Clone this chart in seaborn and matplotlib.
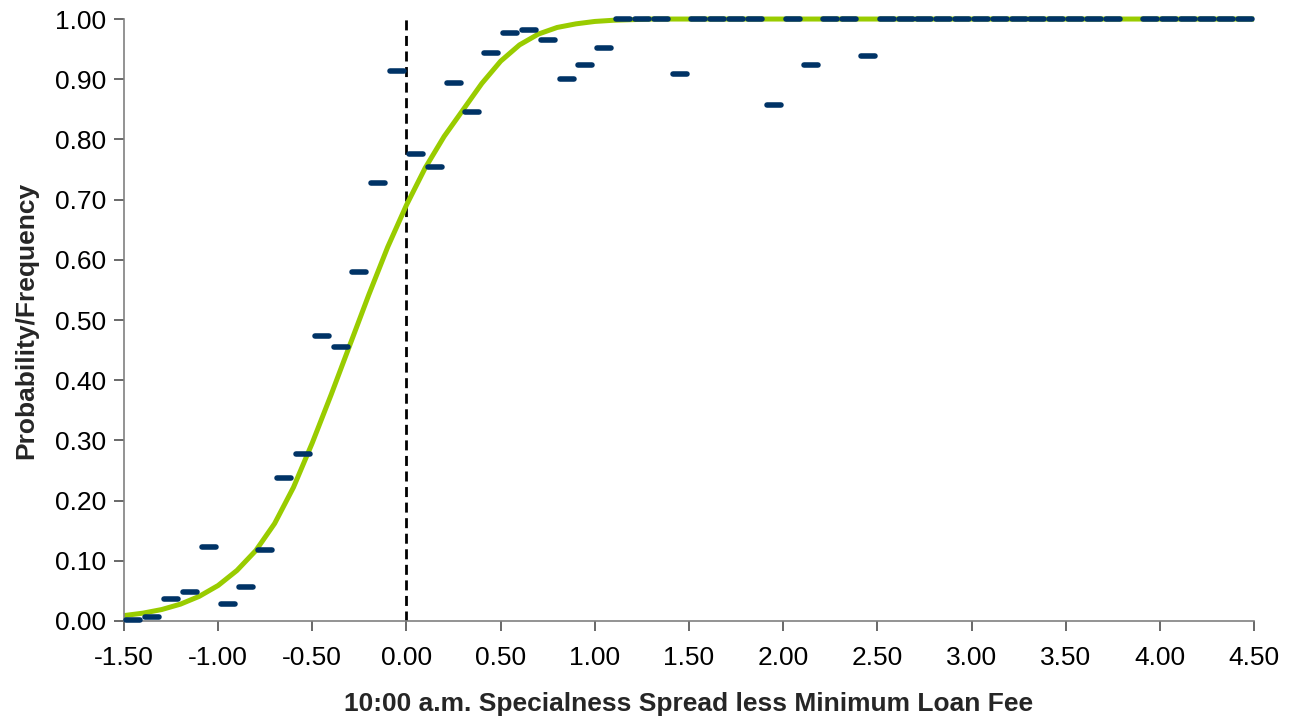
import matplotlib
matplotlib.use("Agg")
import matplotlib.pyplot as plt
from matplotlib.markers import MarkerStyle
from matplotlib.ticker import FormatStrFormatter
import seaborn as sns
import pandas as pd

# Observed frequency per 0.10 bin (bin centers)
bin_x = [-1.45, -1.35, -1.25, -1.15, -1.05, -0.95, -0.85, -0.75, -0.65, -0.55,
         -0.45, -0.35, -0.25, -0.15, -0.05, 0.05, 0.15, 0.25, 0.35, 0.45,
         0.55, 0.65, 0.75, 0.85, 0.95, 1.05, 1.15, 1.25, 1.35, 1.45,
         1.55, 1.65, 1.75, 1.85, 1.95, 2.05, 2.15, 2.25, 2.35, 2.45,
         2.55, 2.65, 2.75, 2.85, 2.95, 3.05, 3.15, 3.25, 3.35, 3.45,
         3.55, 3.65, 3.75, 3.95, 4.05, 4.15, 4.25, 4.35, 4.45]
freq = [0.002, 0.007, 0.036, 0.048, 0.123, 0.028, 0.057, 0.118, 0.238, 0.278,
        0.473, 0.455, 0.580, 0.728, 0.914, 0.776, 0.754, 0.893, 0.846, 0.943,
        0.977, 0.982, 0.965, 0.900, 0.923, 0.952, 1.000, 1.000, 1.000, 0.909,
        1.000, 1.000, 1.000, 1.000, 0.857, 1.000, 0.923, 1.000, 1.000, 0.938,
        1.000, 1.000, 1.000, 1.000, 1.000, 1.000, 1.000, 1.000, 1.000, 1.000,
        1.000, 1.000, 1.000, 1.000, 1.000, 1.000, 1.000, 1.000, 1.000]

# Fitted probability curve
curve_x = [-1.5, -1.4, -1.3, -1.2, -1.1, -1.0, -0.9, -0.8, -0.7, -0.6,
           -0.5, -0.4, -0.3, -0.2, -0.1, 0.0, 0.1, 0.2, 0.3, 0.4,
           0.5, 0.6, 0.7, 0.8, 0.9, 1.0, 1.1, 1.2, 1.3, 4.5]
curve_y = [0.009, 0.013, 0.019, 0.028, 0.041, 0.059, 0.084, 0.117, 0.162, 0.222,
           0.296, 0.376, 0.459, 0.542, 0.621, 0.691, 0.753, 0.805, 0.849, 0.893,
           0.930, 0.957, 0.975, 0.986, 0.992, 0.996, 0.998, 0.999, 1.000, 1.000]

x_ticks = [-1.5, -1.0, -0.5, 0.0, 0.5, 1.0, 1.5, 2.0, 2.5, 3.0, 3.5, 4.0, 4.5]
y_ticks = [0.0, 0.1, 0.2, 0.3, 0.4, 0.5, 0.6, 0.7, 0.8, 0.9, 1.0]

x_label = "10:00 a.m. Specialness Spread less Minimum Loan Fee"
y_label = "Probability/Frequency"

sns.set_style("white")
plt.rcParams['font.family'] = ['Liberation Sans', 'DejaVu Sans']

fig = plt.figure(figsize=(12.94, 7.21), dpi=100)
ax = fig.add_axes([0.0958, 0.1387, 0.8733, 0.8349])

df_curve = pd.DataFrame({"x": curve_x, "y": curve_y})
df_bins = pd.DataFrame({"x": bin_x, "y": freq})

sns.lineplot(data=df_curve, x="x", y="y", ax=ax, color="#99CC00", linewidth=3.6,
             zorder=2, clip_on=False)
ax.lines[-1].set_solid_capstyle("butt")
ax.lines[-1].set_solid_joinstyle("round")

ax.axvline(0.0, color="black", linewidth=2.0, linestyle=(0, (3.6, 2.0)), zorder=1.5)

mk = MarkerStyle("_", capstyle="round")
sns.lineplot(data=df_bins, x="x", y="y", ax=ax, linestyle="", marker=mk,
             markersize=10.0, markeredgewidth=4.0, color="#003366",
             markeredgecolor="#003366", zorder=3, clip_on=False)

ax.set_xlim(-1.5, 4.5)
ax.set_ylim(0.0, 1.0)
ax.set_xticks(x_ticks)
ax.set_yticks(y_ticks)
ax.xaxis.set_major_formatter(FormatStrFormatter("%.2f"))
ax.yaxis.set_major_formatter(FormatStrFormatter("%.2f"))

for s in ["top", "right"]:
    ax.spines[s].set_visible(False)
for s in ["left", "bottom"]:
    ax.spines[s].set_color("#808080")
    ax.spines[s].set_linewidth(1.2)

ax.tick_params(axis="both", which="major", direction="out", length=7, width=1.1,
               color="#404040", labelsize=19, labelcolor="black")
ax.tick_params(axis="x", pad=11)
ax.tick_params(axis="y", pad=6)
ax.xaxis.set_ticks_position("bottom")
ax.yaxis.set_ticks_position("left")

ax.set_xlabel(x_label, fontsize=19, fontweight="bold", labelpad=16)
ax.set_ylabel(y_label, fontsize=19, fontweight="bold", labelpad=12)

fig.savefig("out.png", dpi=100)
